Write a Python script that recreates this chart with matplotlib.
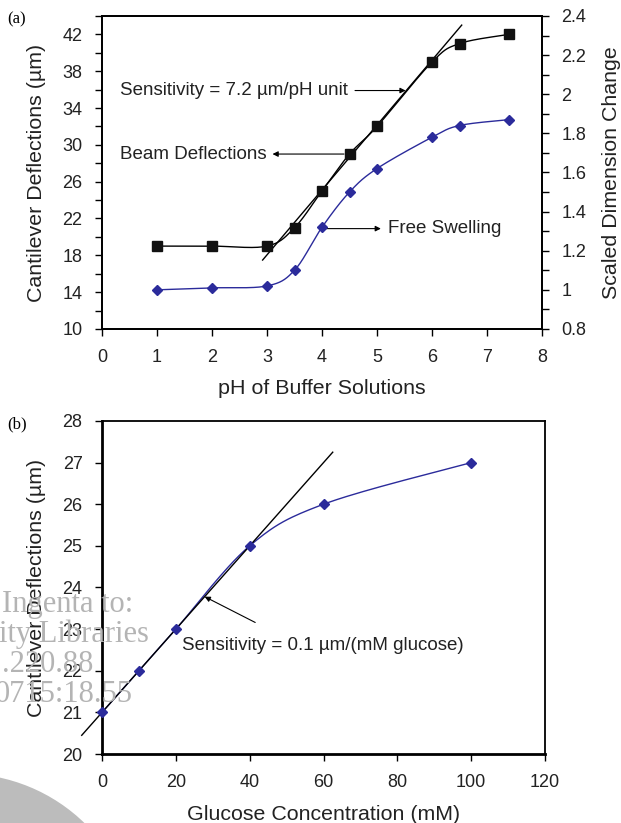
import numpy as np
import matplotlib.pyplot as plt
from matplotlib.ticker import MultipleLocator, FixedLocator
from matplotlib.patches import Ellipse

plt.rcParams['font.family'] = ['Liberation Sans', 'DejaVu Sans']

# ---- data, panel (a)
ph_beam = [1, 2, 3, 3.5, 4, 4.5, 5, 6, 6.5, 7.4]
beam_defl = [19, 19, 19, 21, 25, 29, 32, 39, 41, 42]
ph_free = [1, 2, 3, 3.5, 4, 4.5, 5, 6, 6.5, 7.4]
free_swell = [1.0, 1.01, 1.02, 1.10, 1.32, 1.50, 1.62, 1.78, 1.84, 1.87]
fit_a_slope = 7.05
fit_a_icpt = -3.1
fit_a_x = [2.92, 6.54]

# ---- data, panel (b)
glucose = [0, 10, 20, 40, 60, 100]
gluc_defl = [21, 22, 23, 25, 26, 27]
fit_b_slope = 0.1
fit_b_icpt = 21.0
fit_b_x = [-5.5, 62.5]

blue = '#2b2b9b'
txt = '#222222'


def smooth(x, y, n=30):
    # catmull-rom style curve through the points (like excel "smoothed line")
    x = np.asarray(x, float)
    y = np.asarray(y, float)
    xs, ys = [], []
    for i in range(len(x) - 1):
        p0 = i - 1 if i > 0 else i
        p3 = i + 2 if i + 2 < len(x) else i + 1
        mx0 = (x[i + 1] - x[p0]) / 2.0
        my0 = (y[i + 1] - y[p0]) / 2.0
        mx1 = (x[p3] - x[i]) / 2.0
        my1 = (y[p3] - y[i]) / 2.0
        t = np.linspace(0, 1, n)
        h00 = 2 * t**3 - 3 * t**2 + 1
        h10 = t**3 - 2 * t**2 + t
        h01 = -2 * t**3 + 3 * t**2
        h11 = t**3 - t**2
        xs.append(h00 * x[i] + h10 * mx0 + h01 * x[i + 1] + h11 * mx1)
        ys.append(h00 * y[i] + h10 * my0 + h01 * y[i + 1] + h11 * my1)
    return np.concatenate(xs), np.concatenate(ys)


fig = plt.figure(figsize=(6.21, 8.23), dpi=100)

# grey blob + text of the download watermark (behind everything)
fig.add_artist(Ellipse((-0.06, -0.15), 0.56, 0.42, transform=fig.transFigure,
                       color='#bcbcbc', lw=0, zorder=0))
fig.add_artist(Ellipse((-0.07, -0.16), 0.44, 0.32, transform=fig.transFigure,
                       color='#a9a9a9', lw=0, zorder=0))
wm = dict(fontsize=22, family='Liberation Serif', color='#b4b4b4', zorder=0, va='baseline')
fig.text(0.003, 0.2564, 'Ingenta to:', **wm)
fig.text(-0.002, 0.2199, 'ity Libraries', **wm)
fig.text(0.003, 0.1835, '.220.88', **wm)
fig.text(-0.008, 0.1470, '0715:18.55', **wm)

# ================= panel (a)
ax = fig.add_axes([0.1643, 0.6003, 0.7085, 0.3803])
ax2 = ax.twinx()
ax.patch.set_alpha(0)

ax.set_xlim(0, 8)
ax.set_ylim(10, 44)
ax2.set_ylim(0.8, 2.4)

sx, sy = smooth(ph_beam, beam_defl)
ax.plot(sx, sy, color='k', lw=1.0, zorder=2)
fx = np.array(fit_a_x)
ax.plot(fx, fit_a_slope * fx + fit_a_icpt, color='k', lw=1.0, zorder=2)
ax.plot(ph_beam, beam_defl, ls='none', marker='s', ms=6.5, color='#111111', zorder=3)

sx, sy = smooth(ph_free, free_swell)
ax2.plot(sx, sy, color=blue, lw=1.0)
ax2.plot(ph_free, free_swell, ls='none', marker='D', ms=5.2, color=blue)

ax.xaxis.set_major_locator(MultipleLocator(1))
ax.yaxis.set_major_locator(FixedLocator(np.arange(10, 43, 4)))
ax.yaxis.set_minor_locator(FixedLocator(np.arange(12, 45, 4)))
ax2.yaxis.set_major_locator(MultipleLocator(0.2))
ax2.yaxis.set_minor_locator(MultipleLocator(0.1))
ax2.set_yticklabels(['%g' % v for v in ax2.get_yticks()])

for a in (ax, ax2):
    a.tick_params(which='both', direction='out', labelsize=13, colors='k',
                  labelcolor=txt, length=5, width=1)
    a.tick_params(axis='y', which='both', pad=9)
    for s in a.spines.values():
        s.set_linewidth(1.3)
ax.tick_params(axis='x', pad=9.5)

ax.set_xlabel('pH of Buffer Solutions', fontsize=15.4, color=txt, labelpad=9)
ax.set_ylabel('Cantilever Deflections (\u00b5m)', fontsize=15.4, color=txt, labelpad=12)
ax2.set_ylabel('Scaled Dimension Change', fontsize=15.4, color=txt, labelpad=11.5)

arr = dict(arrowstyle='-|>', lw=0.8, color='k', mutation_scale=8, shrinkA=0, shrinkB=0)
ax.text(0.33, 35.9, 'Sensitivity = 7.2 \u00b5m/pH unit', fontsize=13.5, color=txt, va='center')
ax.annotate('', xy=(5.52, 35.9), xytext=(4.6, 35.9), arrowprops=arr)
ax.text(0.33, 29.0, 'Beam Deflections', fontsize=13.5, color=txt, va='center')
ax.annotate('', xy=(3.1, 29.0), xytext=(4.4, 29.0), arrowprops=arr)
ax.text(5.2, 20.9, 'Free Swelling', fontsize=13.5, color=txt, va='center')
ax.annotate('', xy=(5.07, 20.9), xytext=(4.05, 20.9), arrowprops=arr)

fig.text(0.011, 0.976, '(a)', fontsize=12, family='Liberation Serif', va='center')

# ================= panel (b)
bx = fig.add_axes([0.1643, 0.0838, 0.7133, 0.4047])
bx.patch.set_alpha(0)
bx.set_xlim(0, 120)
bx.set_ylim(20, 28)

sx, sy = smooth(glucose, gluc_defl)
bx.plot(sx, sy, color=blue, lw=1.0, zorder=2)
fx = np.array(fit_b_x)
bx.plot(fx, fit_b_slope * fx + fit_b_icpt, color='k', lw=1.0, zorder=3, clip_on=False)
bx.plot(glucose, gluc_defl, ls='none', marker='D', ms=5.2, color=blue, zorder=4, clip_on=False)

bx.xaxis.set_major_locator(MultipleLocator(20))
bx.yaxis.set_major_locator(MultipleLocator(1))
bx.tick_params(direction='out', labelsize=13, length=5, width=1, labelcolor=txt)
bx.tick_params(axis='y', pad=9)
bx.tick_params(axis='x', pad=9.5)
for s in bx.spines.values():
    s.set_linewidth(1.3)
bx.spines['left'].set_linewidth(2.0)
bx.spines['bottom'].set_linewidth(2.0)

bx.set_xlabel('Glucose Concentration (mM)', fontsize=15.4, color=txt, labelpad=10)
bx.set_ylabel('Cantilever Deflections (\u00b5m)', fontsize=15.4, color=txt, labelpad=12)

bx.text(21.6, 22.6, 'Sensitivity = 0.1 \u00b5m/(mM glucose)', fontsize=13.5, color=txt, va='center')
bx.annotate('', xy=(27.8, 23.78), xytext=(41.5, 23.16), arrowprops=arr)

fig.text(0.011, 0.484, '(b)', fontsize=12, family='Liberation Serif', va='center')

fig.savefig('out.png', dpi=100)
